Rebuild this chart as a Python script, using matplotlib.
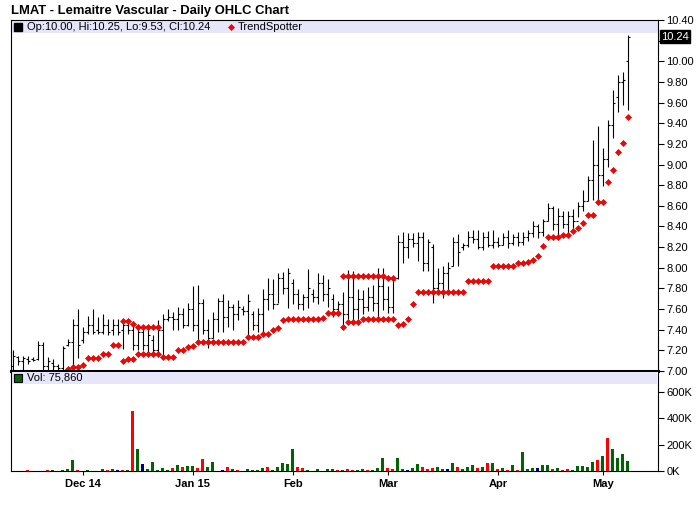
import numpy as np
import matplotlib.pyplot as plt
from matplotlib.patches import Rectangle
from matplotlib.lines import Line2D

nan = np.nan

# dados (LMAT, pregoes de 10/nov/2014 a 08/mai/2015)
maxima = [7.20, 7.15, 7.15, 7.15, 7.14, 7.29, 7.28, 7.14, 7.12, 7.07,
          7.24, 7.31, 7.50, 7.60, 7.43, 7.53, 7.60, 7.52, 7.55, 7.50,
          7.50, 7.50, 7.50, 7.49, 7.48, 7.42, 7.44, 7.44, 7.35, 7.49,
          7.55, 7.60, 7.57, 7.62, 7.61, 7.66, 7.82, 7.83, 7.70, 7.50,
          7.57, 7.71, 7.75, 7.69, 7.65, 7.69, 7.63, 7.75, 7.58, 7.61,
          7.79, 7.90, 7.89, 7.95, 7.96, 8.00, 7.89, 7.79, 7.75, 7.99,
          7.79, 7.95, 7.93, 7.89, 7.75, 7.68, 7.77, 7.98, 7.97, 7.79,
          7.78, 7.81, 7.83, 8.00, 8.00, 7.82, 7.91, 8.32, 8.35, 8.34,
          8.34, 8.35, 8.35, 8.28, 8.23, 8.00, 8.02, 8.06, 8.30, 8.33,
          8.24, 8.36, 8.37, 8.37, 8.35, 8.36, 8.37, 8.30, 8.34, 8.37,
          8.33, 8.35, 8.35, 8.37, 8.45, 8.42, 8.47, 8.63, 8.60, 8.58,
          8.55, 8.55, 8.57, 8.64, 8.75, 8.89, 9.24, 9.37, 9.16, 9.43,
          9.72, 9.87, 9.90, 10.25]
minima = [7.01, 7.06, 7.01, 7.07, 7.10, 7.11, 7.01, 7.01, 7.01, 7.01,
          7.01, 7.24, 7.02, 7.13, 7.27, 7.36, 7.36, 7.36, 7.36, 7.35,
          7.35, 7.35, 7.21, 7.36, 7.20, 7.20, 7.20, 7.16, 7.16, 7.16,
          7.14, 7.48, 7.40, 7.40, 7.42, 7.44, 7.39, 7.29, 7.36, 7.22,
          7.32, 7.38, 7.38, 7.43, 7.40, 7.49, 7.54, 7.34, 7.40, 7.38,
          7.36, 7.59, 7.60, 7.66, 7.75, 7.61, 7.65, 7.60, 7.59, 7.61,
          7.67, 7.65, 7.68, 7.62, 7.52, 7.54, 7.43, 7.50, 7.47, 7.50,
          7.55, 7.58, 7.58, 7.50, 7.59, 7.56, 7.56, 7.89, 8.05, 8.09,
          8.20, 8.07, 7.97, 7.97, 7.66, 7.75, 7.71, 7.78, 8.02, 8.02,
          8.17, 8.20, 8.24, 8.18, 8.17, 8.20, 8.19, 8.20, 8.22, 8.19,
          8.22, 8.21, 8.22, 8.26, 8.30, 8.29, 8.31, 8.45, 8.37, 8.29,
          8.39, 8.32, 8.39, 8.49, 8.55, 8.65, 8.66, 8.64, 8.79, 8.98,
          9.26, 9.51, 9.58, 9.53]
abertura = [7.05, 7.14, 7.10, 7.12, 7.12, 7.12, 7.25, 7.05, 7.08, 7.05,
            7.03, 7.25, 7.28, 7.45, 7.30, 7.38, 7.45, 7.40, 7.38, 7.45,
            7.40, 7.45, 7.40, 7.45, 7.40, 7.25, 7.38, 7.25, 7.30, 7.20,
            7.40, 7.50, 7.52, 7.50, 7.55, 7.45, 7.60, 7.45, 7.66, 7.40,
            7.32, 7.50, 7.68, 7.52, 7.62, 7.55, 7.60, 7.58, 7.55, 7.45,
            7.55, 7.70, 7.75, 7.65, 7.90, 7.80, 7.85, 7.75, 7.65, 7.72,
            7.75, 7.72, 7.85, 7.75, 7.70, 7.60, 7.65, 7.55, 7.72, 7.60,
            7.70, 7.62, 7.72, 7.66, 7.82, 7.70, 7.62, 7.90, 8.25, 8.20,
            8.28, 8.24, 8.30, 8.05, 8.20, 7.80, 7.85, 7.95, 8.02, 8.25,
            8.20, 8.22, 8.30, 8.28, 8.20, 8.30, 8.22, 8.25, 8.22, 8.30,
            8.24, 8.30, 8.25, 8.30, 8.34, 8.40, 8.35, 8.45, 8.58, 8.42,
            8.50, 8.42, 8.50, 8.45, 8.60, 8.65, 8.85, 9.00, 8.90, 9.05,
            9.38, 9.65, 9.80, 10.00]
fechamento = [7.15, 7.10, 7.13, 7.10, 7.11, 7.25, 7.05, 7.10, 7.05, 7.03,
              7.22, 7.28, 7.45, 7.25, 7.38, 7.45, 7.38, 7.38, 7.45, 7.38,
              7.45, 7.38, 7.45, 7.40, 7.25, 7.38, 7.25, 7.35, 7.20, 7.40,
              7.50, 7.52, 7.50, 7.55, 7.45, 7.60, 7.45, 7.66, 7.40, 7.32,
              7.50, 7.68, 7.52, 7.62, 7.55, 7.62, 7.58, 7.68, 7.45, 7.55,
              7.70, 7.75, 7.65, 7.90, 7.80, 7.95, 7.75, 7.65, 7.72, 7.80,
              7.72, 7.85, 7.75, 7.80, 7.60, 7.65, 7.55, 7.72, 7.60, 7.70,
              7.62, 7.72, 7.66, 7.82, 7.70, 7.62, 7.88, 8.25, 8.20, 8.28,
              8.24, 8.30, 8.05, 8.25, 7.80, 7.85, 7.95, 8.00, 8.25, 8.15,
              8.22, 8.30, 8.28, 8.20, 8.30, 8.22, 8.25, 8.22, 8.30, 8.24,
              8.30, 8.25, 8.30, 8.34, 8.40, 8.35, 8.45, 8.58, 8.42, 8.50,
              8.42, 8.50, 8.45, 8.60, 8.65, 8.85, 9.00, 8.90, 9.05, 9.38,
              9.60, 9.80, 9.82, 10.24]

# TrendSpotter: pontos abaixo e acima das barras
trend_baixo = ([nan] * 11 +
               [7.02, 7.04, 7.04, 7.06, 7.13, 7.13, 7.13, 7.16, 7.16, 7.25,
                7.25, 7.10, 7.12, 7.12, 7.16, 7.16, 7.16, 7.16, 7.16, 7.14,
                7.14, 7.14, 7.20, 7.20, 7.23, 7.24, 7.28, 7.28, 7.28, 7.28,
                7.28, 7.28, 7.28, 7.28, 7.28, 7.28, 7.33, 7.33, 7.33, 7.36,
                7.36, 7.40, 7.42, 7.49, 7.50, 7.50, 7.50, 7.50, 7.50, 7.50,
                7.50, 7.51, 7.56, 7.56, 7.56, 7.43, 7.47, 7.47, 7.47, 7.50,
                7.50, 7.50, 7.50, 7.50, 7.50, 7.50, 7.45, 7.46, 7.50, 7.65,
                7.77, 7.77, 7.77, 7.77, 7.77, 7.77, 7.77, 7.77, 7.77, 7.77,
                7.87, 7.87, 7.87, 7.87, 7.87, 8.02, 8.02, 8.02, 8.02, 8.02,
                8.05, 8.05, 8.06, 8.08, 8.11, 8.21, 8.30, 8.30, 8.30, 8.32,
                8.32, 8.36, 8.39, 8.43, 8.51, 8.51, 8.64, 8.64, 8.83, 8.95,
                9.12, 9.21, 9.46])
trend_alto = ([nan] * 22 +
              [7.48, 7.48, 7.46, 7.43, 7.43, 7.43, 7.43, 7.43] +
              [nan] * 36 +
              [7.92] * 9 + [7.90, 7.90] +
              [nan] * 47)

# volume em milhares e cor da barra (g = alta, r = baixa, b = estavel)
volume_k = [3, 3, 3, 8, 3, 3, 3, 8, 8, 3,
            8, 15, 83, 8, 3, 8, 3, 3, 15, 8,
            15, 8, 8, 8, 456, 166, 50, 15, 68, 8,
            23, 8, 23, 45, 30, 38, 38, 23, 91, 30,
            68, 3, 8, 30, 15, 8, 3, 15, 8, 8,
            23, 30, 8, 30, 60, 53, 166, 30, 23, 8,
            3, 15, 3, 15, 15, 8, 8, 15, 8, 8,
            15, 8, 8, 23, 98, 23, 15, 98, 15, 8,
            23, 53, 30, 15, 23, 30, 15, 15, 60, 30,
            15, 30, 45, 23, 30, 60, 60, 15, 23, 8,
            45, 8, 144, 15, 23, 23, 45, 45, 15, 23,
            8, 15, 8, 38, 38, 30, 68, 83, 113, 249,
            166, 98, 128, 76]
volume_cor = list('gggrgggrgg' 'gggrgggggr' 'gbrgrgbggg' 'ggrgrggrrg'
                  'ggbrgrgggg' 'grgggggrrg' 'gggggrgrrg' 'grgggrrggb'
                  'ggrrrggbgr' 'gggrgrgrgr' 'grgggbggrg' 'rrgggggrgr'
                  'gggg')

meses_pos = [14, 36, 56, 75, 97, 118]
meses_rotulos = ['Dec 14', 'Jan 15', 'Feb', 'Mar', 'Apr', 'May']

plt.rcParams['font.family'] = ['Liberation Sans', 'DejaVu Sans']

W, H = 700, 512
fig = plt.figure(figsize=(W / 100, H / 100), dpi=100)


def fig_xy(x, y):
    # pixel -> fracao da figura
    return x / W, 1 - y / H


esq, dir_ = 11, 658
ax = fig.add_axes([esq / W, 1 - 371 / H, (dir_ - esq) / W, (371 - 20) / H])
ax_vol = fig.add_axes([esq / W, 1 - 471 / H, (dir_ - esq) / W, (471 - 372) / H], sharex=ax)

x = np.arange(len(maxima))
lw = 0.8

# barras OHLC
ax.vlines(x, minima, maxima, color='black', linewidth=lw)
ax.hlines(abertura, x - 0.45, x, color='black', linewidth=lw)
ax.hlines(fechamento, x, x + 0.45, color='black', linewidth=lw)

# TrendSpotter
estilo_trend = dict(linestyle='none', marker='D', markersize=3.1,
                    markerfacecolor='#ff0000', markeredgecolor='#c00000',
                    markeredgewidth=0.4)
ax.plot(x, trend_baixo, **estilo_trend)
ax.plot(x, trend_alto, **estilo_trend)

ax.set_xlim(-0.4, 129.05)
ax.set_ylim(7.0, 10.40)

niveis = np.round(np.arange(7.0, 10.41, 0.2), 2)
ax.yaxis.tick_right()
ax.set_yticks(niveis)
ax.set_yticklabels(['' if abs(v - 10.2) < 1e-6 else f'{v:.2f}' for v in niveis])
ax.tick_params(axis='y', direction='out', length=4, width=0.8, labelsize=8, pad=2)
ax.tick_params(axis='x', bottom=False, labelbottom=False)
for lado in ['top', 'left', 'right']:
    ax.spines[lado].set_linewidth(0.8)
ax.spines['bottom'].set_linewidth(2.2)

# faixa da legenda
ax.add_patch(Rectangle((0, 1 - 13 / 351), 1, 13 / 351, transform=ax.transAxes,
                       facecolor='#e6e6fa', edgecolor='none', zorder=0.5))

# ultimo fechamento
ax.text(1.0048, 10.24, '10.24', transform=ax.get_yaxis_transform(),
        ha='left', va='center', color='white', fontsize=8,
        bbox=dict(facecolor='black', edgecolor='black', pad=0.8), clip_on=False)

# volume
cores = {'g': '#006400', 'r': '#ff0000', 'b': '#000080'}
ax_vol.bar(x, volume_k, width=0.6, color=[cores[c] for c in volume_cor])
ax_vol.set_ylim(0, 749)
ax_vol.yaxis.tick_right()
ax_vol.set_yticks([0, 200, 400, 600])
ax_vol.set_yticklabels(['0K', '200K', '400K', '600K'])
ax_vol.tick_params(axis='y', direction='out', length=4, width=0.8, labelsize=8, pad=2)
ax_vol.set_xticks(meses_pos)
ax_vol.set_xticklabels(meses_rotulos, fontweight='bold', fontsize=8)
ax_vol.tick_params(axis='x', direction='out', length=3, width=0.8, pad=3)
ax_vol.spines['top'].set_visible(False)
for lado in ['bottom', 'left', 'right']:
    ax_vol.spines[lado].set_linewidth(0.8)
ax_vol.add_patch(Rectangle((0, 1 - 12 / 99), 0.9985, 12 / 99, transform=ax_vol.transAxes,
                           facecolor='#e6e6fa', edgecolor='none', zorder=0.5))

# titulo e legendas
fig.text(*fig_xy(11, 11), 'LMAT - Lemaitre Vascular - Daily OHLC Chart',
         fontsize=9.4, fontweight='bold', va='center', ha='left')

fig.add_artist(Line2D([17.5 / W], [1 - 27 / H], marker='s', markersize=5.5,
                      color='black', linestyle='none', transform=fig.transFigure))
fig.text(*fig_xy(27, 27), 'Op:10.00, Hi:10.25, Lo:9.53, Cl:10.24',
         fontsize=8, va='center', ha='left')
fig.add_artist(Line2D([231 / W], [1 - 27 / H], **estilo_trend, transform=fig.transFigure))
fig.text(*fig_xy(238, 27), 'TrendSpotter', fontsize=8, va='center', ha='left')

fig.add_artist(Line2D([17.5 / W], [1 - 378 / H], marker='s', markersize=5.5,
                      markerfacecolor='#006400', markeredgecolor='black',
                      markeredgewidth=0.8, linestyle='none', transform=fig.transFigure))
fig.text(*fig_xy(27, 378), 'Vol: 75,860', fontsize=8, va='center', ha='left')

fig.savefig('out.png', dpi=100)
